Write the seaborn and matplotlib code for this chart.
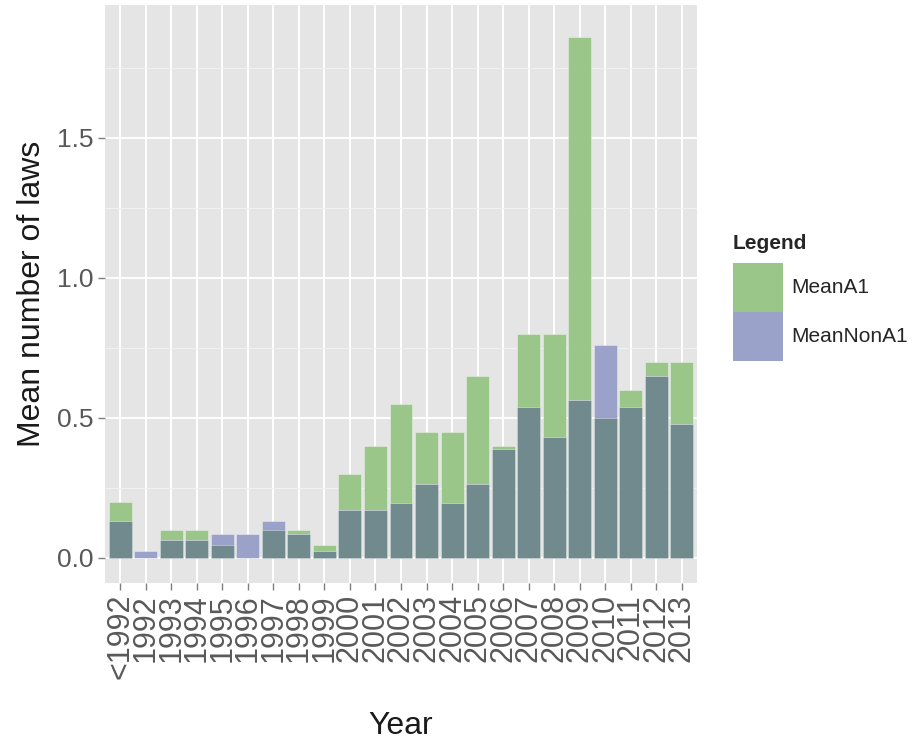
import matplotlib
matplotlib.use("Agg")
import matplotlib.pyplot as plt
from matplotlib.patches import Patch
from matplotlib.ticker import MultipleLocator, FormatStrFormatter
import numpy as np
import pandas as pd
import seaborn as sns

# Values
years = ["<1992", "1992", "1993", "1994", "1995", "1996", "1997", "1998",
         "1999", "2000", "2001", "2002", "2003", "2004", "2005", "2006",
         "2007", "2008", "2009", "2010", "2011", "2012", "2013"]
mean_a1 = [0.2, 0.0, 0.1, 0.1, 0.045, 0.0, 0.1, 0.1, 0.045, 0.3, 0.4,
           0.55, 0.45, 0.45, 0.65, 0.4, 0.8, 0.8, 1.86, 0.5, 0.6, 0.7, 0.7]
mean_non_a1 = [0.133, 0.025, 0.0625, 0.0625, 0.086, 0.086, 0.133, 0.086,
               0.024, 0.17, 0.17, 0.195, 0.265, 0.195, 0.265, 0.39, 0.54,
               0.433, 0.565, 0.76, 0.54, 0.65, 0.48]
series_labels = ["MeanA1", "MeanNonA1"]

green = "#9AC689"
blue = "#9BA2C9"
both = "#718A8E"

sns.set_theme(style="darkgrid", rc={"axes.facecolor": "#E5E5E5"})
plt.rcParams["font.family"] = ["Liberation Sans", "DejaVu Sans"]

df = pd.DataFrame({
    "year": years,
    "a1": mean_a1,
    "non": mean_non_a1,
    "both": np.minimum(mean_a1, mean_non_a1),
})

fig = plt.figure(figsize=(9.18, 7.42), dpi=100)
ax = fig.add_axes([105 / 918, 1 - 583 / 742, 592 / 918, 578 / 742])

# green, blue, then the overlap drawn on top
for col, color in [("a1", green), ("non", blue), ("both", both)]:
    sns.barplot(data=df, x="year", y=col, order=years, color=color,
                saturation=1, width=0.9, errorbar=None,
                edgecolor=(1, 1, 1, 0.35), linewidth=0.7, ax=ax)

ax.set_xlim(-0.6, len(years) - 0.4)
ax.set_ylim(-0.0893, 1.975)
ax.yaxis.set_major_locator(MultipleLocator(0.5))
ax.yaxis.set_minor_locator(MultipleLocator(0.25))
ax.yaxis.set_major_formatter(FormatStrFormatter("%.1f"))
ax.grid(which="major", color="white", linewidth=1.4)
ax.grid(which="minor", axis="y", color="#F2F2F2", linewidth=0.7)
ax.set_axisbelow(True)
for s in ax.spines.values():
    s.set_visible(False)

ax.tick_params(which="major", bottom=True, left=True, length=5, width=1,
               color="#7F7F7F", labelcolor="#595959", pad=3)
ax.tick_params(which="minor", left=False, bottom=False)
ax.tick_params(axis="y", labelsize=19)
ax.tick_params(axis="x", labelsize=22, labelrotation=90)

ax.set_xlabel("Year", fontsize=23, color="#1A1A1A")
ax.set_ylabel("Mean number of laws", fontsize=23, color="#1A1A1A")
ax.xaxis.set_label_coords(0.5, -0.222)
ax.yaxis.set_label_coords(-0.098, 0.5)

handles = [Patch(facecolor=green, edgecolor="none"),
           Patch(facecolor=blue, edgecolor="none")]
leg = fig.legend(handles, series_labels, title="Legend",
                 loc="upper left", bbox_to_anchor=(733 / 918, 1 - 234 / 742),
                 frameon=False, fontsize=15, borderpad=0, borderaxespad=0,
                 handlelength=2.4, handleheight=3.24, labelspacing=0,
                 handletextpad=0.4, alignment="left",
                 title_fontproperties={"weight": "bold", "size": 15})
leg._legend_box.sep = 7

fig.savefig("out.png", dpi=100)
